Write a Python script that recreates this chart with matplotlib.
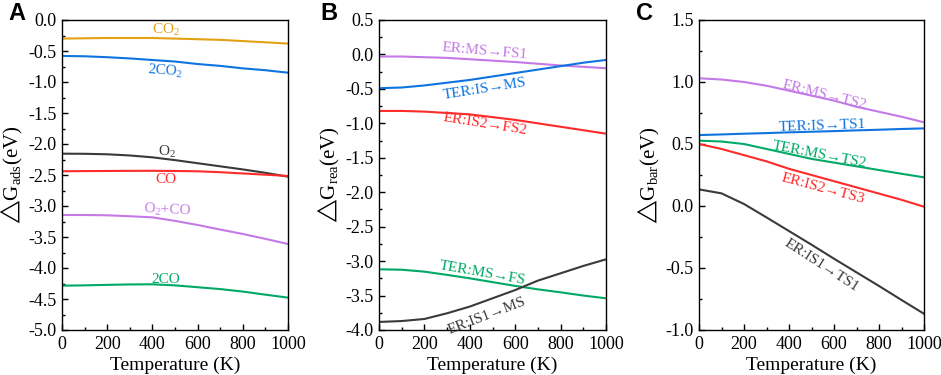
import matplotlib
matplotlib.use("Agg")
import matplotlib.pyplot as plt
from matplotlib.ticker import MultipleLocator, FormatStrFormatter

plt.rcParams['font.family'] = ['Liberation Serif', 'DejaVu Serif']
plt.rcParams['mathtext.fontset'] = 'custom'
plt.rcParams['mathtext.rm'] = 'Liberation Serif'
plt.rcParams['mathtext.it'] = 'Liberation Serif:italic'
plt.rcParams['mathtext.fallback'] = 'stix'
plt.rcParams['axes.unicode_minus'] = True

temperature = [0, 100, 200, 300, 400, 500, 600, 700, 800, 900, 1000]

# Panel A: adsorption free energies
ads_co2 = [-0.30, -0.295, -0.29, -0.29, -0.29, -0.30, -0.31, -0.32, -0.34, -0.36, -0.38]
ads_2co2 = [-0.58, -0.585, -0.60, -0.62, -0.645, -0.67, -0.71, -0.74, -0.78, -0.81, -0.85]
ads_o2 = [-2.156, -2.158, -2.166, -2.185, -2.215, -2.26, -2.31, -2.36, -2.41, -2.465, -2.527]
ads_co = [-2.44, -2.437, -2.435, -2.433, -2.432, -2.435, -2.44, -2.455, -2.475, -2.495, -2.516]
ads_o2co = [-3.145, -3.145, -3.15, -3.165, -3.183, -3.24, -3.306, -3.38, -3.451, -3.53, -3.613]
ads_2co = [-4.285, -4.28, -4.272, -4.265, -4.263, -4.28, -4.31, -4.34, -4.38, -4.43, -4.478]

# Panel B: reaction free energies
rea_er_ms_fs1 = [-0.03, -0.03, -0.04, -0.05, -0.07, -0.09, -0.11, -0.135, -0.16, -0.18, -0.20]
rea_ter_is_ms = [-0.49, -0.48, -0.45, -0.41, -0.37, -0.32, -0.27, -0.22, -0.17, -0.12, -0.08]
rea_er_is2_fs2 = [-0.82, -0.82, -0.83, -0.85, -0.87, -0.91, -0.95, -1.00, -1.05, -1.10, -1.15]
rea_ter_ms_fs = [-3.119, -3.125, -3.153, -3.20, -3.25, -3.305, -3.36, -3.41, -3.453, -3.50, -3.54]
rea_er_is1_ms = [-3.883, -3.87, -3.84, -3.757, -3.66, -3.54, -3.42, -3.283, -3.177, -3.07, -2.974]

# Panel C: barriers
bar_er_ms_ts2 = [1.03, 1.02, 1.00, 0.97, 0.93, 0.89, 0.85, 0.80, 0.76, 0.72, 0.675]
bar_ter_is_ts1 = [0.572, 0.577, 0.583, 0.588, 0.594, 0.599, 0.604, 0.61, 0.615, 0.621, 0.626]
bar_ter_ms_ts2 = [0.527, 0.52, 0.50, 0.46, 0.42, 0.38, 0.35, 0.32, 0.29, 0.26, 0.231]
bar_er_is2_ts3 = [0.50, 0.46, 0.41, 0.36, 0.30, 0.25, 0.20, 0.15, 0.10, 0.05, -0.006]
bar_er_is1_ts1 = [0.134, 0.102, 0.016, -0.092, -0.202, -0.312, -0.425, -0.535, -0.645, -0.758, -0.869]

ORANGE = '#E3A012'
BLUE = '#0F74E0'
GRAY = '#3A3A3A'
RED = '#FF2A2A'
PURPLE = '#C47AE6'
GREEN = '#00A968'

W, H = 941, 375
fig = plt.figure(figsize=(W / 100, H / 100), dpi=100)

def make_ax(left_px, right_px):
    top_px, bot_px = 20, 330
    return fig.add_axes([left_px / W, 1 - bot_px / H, (right_px - left_px) / W, (bot_px - top_px) / H])

def style(ax, ylim, ymajor, ylabel):
    ax.set_xlim(0, 1000)
    ax.set_ylim(*ylim)
    ax.xaxis.set_major_locator(MultipleLocator(200))
    ax.xaxis.set_minor_locator(MultipleLocator(100))
    ax.yaxis.set_major_locator(MultipleLocator(ymajor))
    ax.yaxis.set_minor_locator(MultipleLocator(ymajor / 2))
    ax.yaxis.set_major_formatter(FormatStrFormatter('%.1f'))
    ax.tick_params(which='both', direction='in', top=False, right=False, labelsize=13, pad=4)
    ax.tick_params(which='major', length=4, width=1)
    ax.tick_params(which='minor', length=2.5, width=1)
    for s in ax.spines.values():
        s.set_linewidth(1.0)
    ax.set_xlabel('Temperature (K)', fontsize=14, labelpad=3)
    ax.set_ylabel(ylabel, fontsize=15, labelpad=2)

axA = make_ax(62, 288)
axB = make_ax(379, 606)
axC = make_ax(699, 924)

lw = 1.5
# Panel A
for y, c in [(ads_co2, ORANGE), (ads_2co2, BLUE), (ads_o2, GRAY), (ads_co, RED), (ads_o2co, PURPLE), (ads_2co, GREEN)]:
    axA.plot(temperature, y, color=c, lw=lw)
style(axA, (-5.0, 0.0), 0.5, '$\\bigtriangleup$G$_{\\rm ads}$(eV)')
labA = [('CO$_2$', 461, -0.16, ORANGE, 0), ('2CO$_2$', 458, -0.82, BLUE, -4),
        ('O$_2$', 465, -2.13, GRAY, 0), ('CO', 461, -2.58, RED, 0),
        ('O$_2$+CO', 465, -3.06, PURPLE, -3), ('2CO', 461, -4.18, GREEN, 0)]
for t, x, y, c, r in labA:
    axA.text(x, y, t, color=c, fontsize=11, ha='center', va='center', rotation=r)

# Panel B
for y, c in [(rea_er_ms_fs1, PURPLE), (rea_ter_is_ms, BLUE), (rea_er_is2_fs2, RED), (rea_ter_ms_fs, GREEN), (rea_er_is1_ms, GRAY)]:
    axB.plot(temperature, y, color=c, lw=lw)
style(axB, (-4.0, 0.5), 0.5, '$\\bigtriangleup$G$_{\\rm rea}$(eV)')
labB = [('ER:MS→FS1', 466, 0.046, PURPLE, -5), ('TER:IS→MS', 466, -0.50, BLUE, 9),
        ('ER:IS2→FS2', 466, -1.01, RED, -9), ('TER:MS→FS', 456, -3.17, GREEN, -10),
        ('ER:IS1→MS', 475, -3.79, GRAY, 21)]
for t, x, y, c, r in labB:
    axB.text(x, y, t, color=c, fontsize=11, ha='center', va='center', rotation=r,
             rotation_mode='anchor')

# Panel C
for y, c in [(bar_er_ms_ts2, PURPLE), (bar_ter_is_ts1, BLUE), (bar_ter_ms_ts2, GREEN), (bar_er_is2_ts3, RED), (bar_er_is1_ts1, GRAY)]:
    axC.plot(temperature, y, color=c, lw=lw)
style(axC, (-1.0, 1.5), 0.5, '$\\bigtriangleup$G$_{\\rm bar}$(eV)')
labC = [('ER:MS→TS2', 559, 0.895, PURPLE, -14), ('TER:IS→TS1', 549, 0.645, BLUE, 2),
        ('TER:MS→TS2', 537, 0.411, GREEN, -11), ('ER:IS2→TS3', 552, 0.142, RED, -15),
        ('ER:IS1→TS1', 545, -0.48, GRAY, -33)]
for t, x, y, c, r in labC:
    axC.text(x, y, t, color=c, fontsize=11, ha='center', va='center', rotation=r,
             rotation_mode='anchor')

for lab, xp in [('A', 8), ('B', 320), ('C', 636)]:
    fig.text(xp / W, 1 - 13 / H, lab, fontsize=17, fontweight='bold',
             family='Liberation Sans', ha='left', va='center')

fig.savefig('out.png', dpi=100)
